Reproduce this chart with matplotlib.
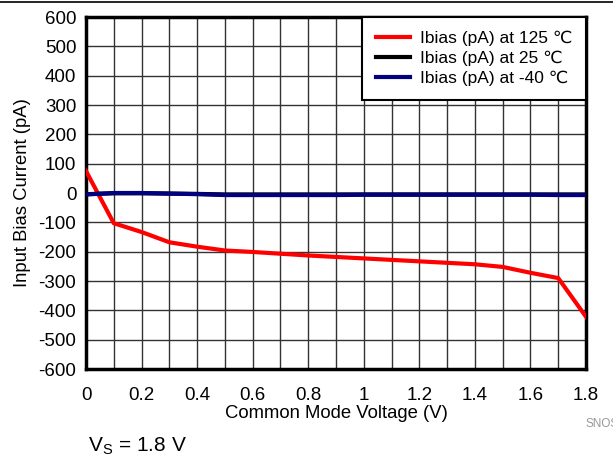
import numpy as np
import matplotlib
matplotlib.use('Agg')
import matplotlib.pyplot as plt
from matplotlib.pyplot import MultipleLocator

plt.rcParams['font.family'] = ['Liberation Sans', 'DejaVu Sans']
plt.rcParams['axes.unicode_minus'] = False

# Data
vcm = [0.0, 0.1, 0.2, 0.3, 0.4, 0.5, 0.6, 0.7, 0.8, 0.9,
       1.0, 1.1, 1.2, 1.3, 1.4, 1.5, 1.6, 1.7, 1.8]
ibias_125 = [75, -103, -133, -168, -183, -196, -201, -207, -213, -218,
             -223, -228, -233, -238, -243, -252, -272, -290, -422]
ibias_25 = [-4, -1, -1, -2, -3, -5, -5, -5, -5, -5,
            -5, -5, -5, -5, -5, -5, -5, -5, -5]
ibias_m40 = [-5, 0, 0, -2, -4, -7, -7, -7, -7, -7,
             -6, -6, -6, -6, -6, -6, -6, -7, -7]
labels = ['Ibias (pA) at 125 \u2103', 'Ibias (pA) at 25 \u2103', 'Ibias (pA) at -40 \u2103']
xticks = [0, 0.2, 0.4, 0.6, 0.8, 1, 1.2, 1.4, 1.6, 1.8]
xticklabels = ['0', '0.2', '0.4', '0.6', '0.8', '1', '1.2', '1.4', '1.6', '1.8']

fig = plt.figure(figsize=(6.13, 4.57), dpi=100)
ax = fig.add_axes([86/613, 1-369/457, 500/613, 352/457])

ax.plot(vcm, ibias_125, color='#ff0000', linewidth=3, label=labels[0], zorder=3)
ax.plot(vcm, ibias_25, color='black', linewidth=3, label=labels[1], zorder=3)
ax.plot(vcm, ibias_m40, color='#000080', linewidth=3, label=labels[2], zorder=4)

ax.set_xlim(0, 1.8)
ax.set_ylim(-600, 600)
ax.set_xticks(xticks)
ax.set_xticklabels(xticklabels)
ax.xaxis.set_minor_locator(MultipleLocator(0.1))
ax.yaxis.set_major_locator(MultipleLocator(100))
ax.grid(which='both', color='#333333', linewidth=1.0, zorder=1)
ax.set_axisbelow(True)
ax.tick_params(axis='both', which='both', length=0, labelsize=13.5)
ax.tick_params(axis='x', pad=13)
ax.tick_params(axis='y', pad=7)

for s in ax.spines.values():
    s.set_linewidth(2.5)

ax.set_xlabel('Common Mode Voltage (V)', fontsize=13.3, labelpad=1)
ax.set_ylabel('Input Bias Current (pA)', fontsize=13.3, labelpad=5)

leg = ax.legend(loc='upper right', fontsize=12.5, frameon=True, fancybox=False,
                borderaxespad=0, handlelength=1.95, handletextpad=0.57,
                labelspacing=0.25, borderpad=0.8, edgecolor='black', framealpha=1)
leg.get_frame().set_linewidth(1.5)

fig.add_artist(plt.Line2D([0, 1], [1-2/457, 1-2/457], color='black', linewidth=1.2,
                          transform=fig.transFigure))
fig.text(585/613, 1-424/457, 'SNOS', color='#999999', fontsize=8.5, va='center', ha='left')
fig.text(88/613, 1-446/457, '$\\mathregular{V_S}$ = 1.8 V', fontsize=15, va='center', ha='left')

plt.savefig('out.png', dpi=100)
